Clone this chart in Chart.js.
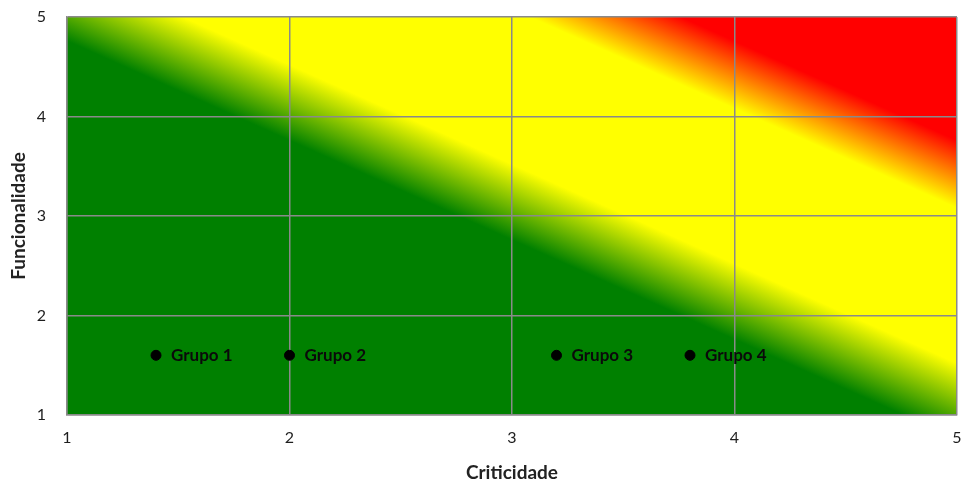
<!DOCTYPE html>
<html>
<head>
<meta charset="utf-8">
<script src="https://cdn.jsdelivr.net/npm/chart.js@4/dist/chart.umd.min.js"></script>
<style>
  html, body { margin: 0; padding: 0; background: #ffffff; }
  #wrap { width: 965px; height: 483px; position: relative; }
</style>
</head>
<body>
<div id="wrap"><canvas id="c"></canvas></div>
<script>
// Groups plotted on the risk matrix
const groups = ['Grupo 1', 'Grupo 2', 'Grupo 3', 'Grupo 4'];
const criticidade = [1.4, 2.0, 3.2, 3.8];
const funcionalidade = [1.6, 1.6, 1.6, 1.6];
const axisTicks = [1, 2, 3, 4, 5];

// Diagonal colour bands: green -> yellow -> red toward the upper right
const zoneStops = [
  [0.00, '#008000'],
  [0.47, '#008000'],
  [0.565, '#ffff00'],
  [0.76, '#ffff00'],
  [0.845, '#ff0000'],
  [1.00, '#ff0000']
];

const zonesPlugin = {
  id: 'zones',
  beforeDraw(chart) {
    const a = chart.chartArea;
    const ctx = chart.ctx;
    const W = a.right - a.left, H = a.bottom - a.top;
    const n2 = W * W + H * H;
    const x0 = a.left, y0 = a.bottom;
    const x1 = x0 + 2 * W * H * H / n2;
    const y1 = y0 - 2 * W * W * H / n2;
    const g = ctx.createLinearGradient(x0, y0, x1, y1);
    zoneStops.forEach(s => g.addColorStop(s[0], s[1]));
    ctx.save();
    ctx.fillStyle = g;
    ctx.fillRect(a.left, a.top, W, H);
    ctx.restore();
  }
};

const labelPlugin = {
  id: 'pointLabels',
  afterDatasetsDraw(chart) {
    const ctx = chart.ctx;
    const meta = chart.getDatasetMeta(0);
    ctx.save();
    ctx.font = 'bold 17px Lato, "Open Sans", sans-serif';
    ctx.fillStyle = '#0a0a0a';
    ctx.textAlign = 'left';
    ctx.textBaseline = 'middle';
    meta.data.forEach((pt, i) => {
      ctx.fillText(groups[i], pt.x + 15, pt.y);
    });
    ctx.restore();
  }
};

const tickFont = { family: 'Lato, "Open Sans", sans-serif', size: 16 };
const titleFont = { family: 'Lato, "Open Sans", sans-serif', size: 19, weight: 'bold' };

new Chart(document.getElementById('c'), {
  type: 'scatter',
  data: {
    datasets: [{
      label: 'Grupos',
      data: criticidade.map((x, i) => ({ x: x, y: funcionalidade[i] })),
      backgroundColor: '#000000',
      borderColor: '#000000',
      pointRadius: 5,
      pointHoverRadius: 5
    }]
  },
  options: {
    responsive: true,
    maintainAspectRatio: false,
    animation: false,
    layout: { padding: { top: 17, right: 8, left: 0, bottom: 0 } },
    plugins: {
      legend: { display: false },
      tooltip: { enabled: false }
    },
    scales: {
      x: {
        type: 'linear',
        min: axisTicks[0],
        max: axisTicks[axisTicks.length - 1],
        afterBuildTicks(scale) { scale.ticks = axisTicks.map(v => ({ value: v })); },
        afterFit(scale) { scale.height = 68; scale.paddingLeft = 0; scale.paddingRight = 0; },
        grid: { color: '#8a8a8a', lineWidth: 1.5, drawTicks: false },
        border: { color: '#8a8a8a', width: 1.5 },
        ticks: { color: '#1e1e1e', font: tickFont, padding: 13 },
        title: { display: true, text: 'Criticidade', color: '#222222', font: titleFont, padding: { top: 4, bottom: -1 } }
      },
      y: {
        type: 'linear',
        min: axisTicks[0],
        max: axisTicks[axisTicks.length - 1],
        afterBuildTicks(scale) { scale.ticks = axisTicks.map(v => ({ value: v })); },
        afterFit(scale) { scale.width = 67; scale.paddingTop = 0; scale.paddingBottom = 0; },
        grid: { color: '#8a8a8a', lineWidth: 1.5, drawTicks: false },
        border: { color: '#8a8a8a', width: 1.5 },
        ticks: { color: '#1e1e1e', font: tickFont, padding: 21 },
        title: { display: true, text: 'Funcionalidade', color: '#222222', font: titleFont, padding: { top: 7, bottom: 0 } }
      }
    }
  },
  plugins: [zonesPlugin, labelPlugin]
});
</script>
</body>
</html>
